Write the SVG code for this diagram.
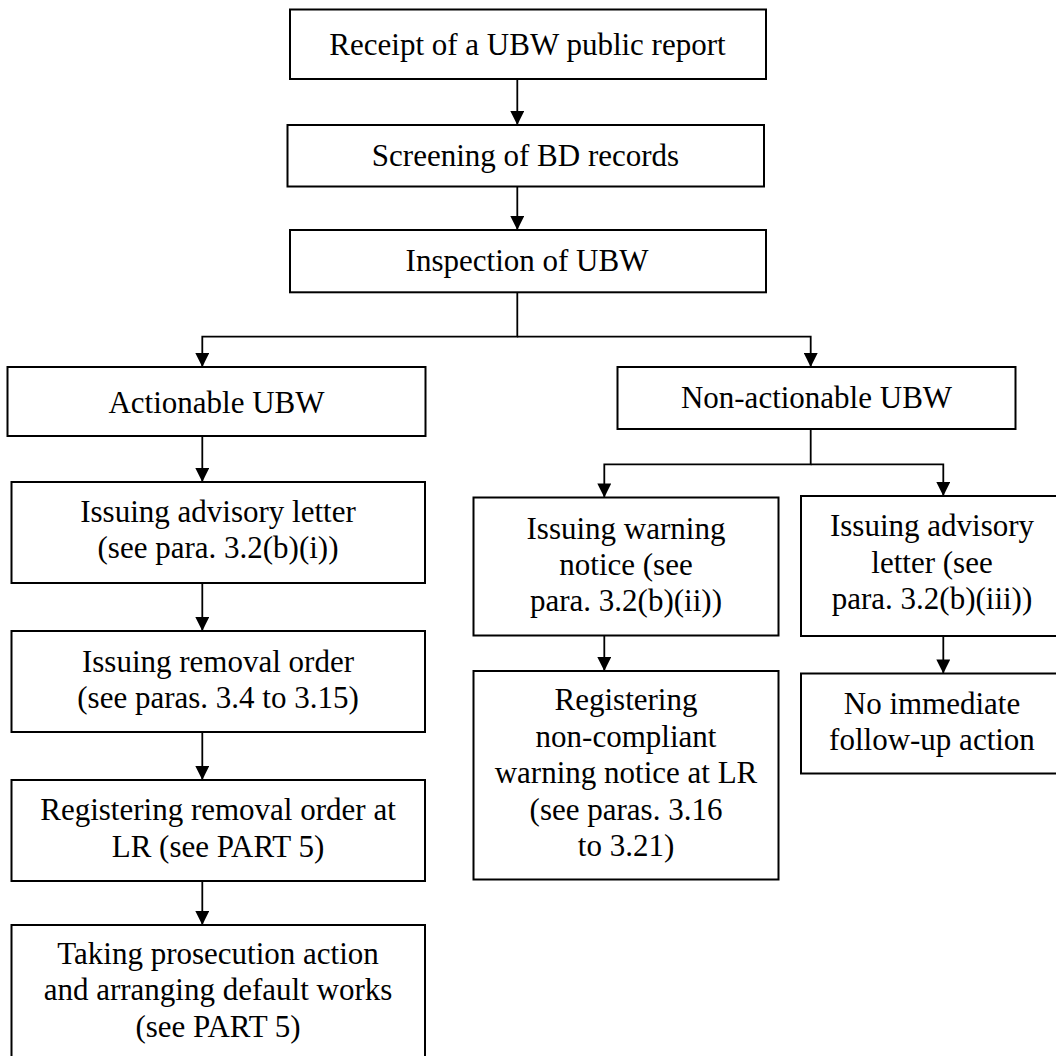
<svg xmlns="http://www.w3.org/2000/svg" width="1056" height="1056" viewBox="0 0 1056 1056">
<style>
.box{fill:#fff;stroke:#000;stroke-width:2}
.t{font-family:"Liberation Serif","Times New Roman",serif;font-size:31px;fill:#000;text-anchor:middle}
.c{fill:none;stroke:#000;stroke-width:1.8}
.a{marker-end:url(#arr)}
</style>
<defs>
<marker id="arr" viewBox="0 0 10 10" refX="10" refY="5" markerWidth="16" markerHeight="14" markerUnits="userSpaceOnUse" orient="auto">
<path d="M0,0 L10,5 L0,10 z" fill="#000"/>
</marker>
</defs>
<rect width="1056" height="1056" fill="#fff"/>
<g id="connectors">
<path class="c a" d="M517.3,79 V125"/>
<path class="c a" d="M517.3,186.7 V230"/>
<path class="c a" d="M517.3,292.3 V336.7 H202.3 V367"/>
<path class="c a" d="M517.3,336.7 H810.7 V367"/>
<path class="c a" d="M202.3,436 V482"/>
<path class="c a" d="M202.3,583 V631"/>
<path class="c a" d="M202.3,732 V780"/>
<path class="c a" d="M202.3,881 V925"/>
<path class="c a" d="M810.7,429 V464.3 H604.3 V497.5"/>
<path class="c a" d="M810.7,464.3 H943.3 V496"/>
<path class="c a" d="M604.3,635.5 V671"/>
<path class="c a" d="M943.3,636 V673.5"/>
</g>
<g id="n-receipt">
<rect class="box" x="290" y="9.5" width="476" height="69.5"/>
<text class="t" x="527.5" y="55">Receipt of a UBW public report</text>
</g>
<g id="n-screening">
<rect class="box" x="287.5" y="125" width="476.5" height="61.5"/>
<text class="t" x="525.5" y="166">Screening of BD records</text>
</g>
<g id="n-inspection">
<rect class="box" x="290" y="230" width="476" height="62.3"/>
<text class="t" x="527" y="271">Inspection of UBW</text>
</g>
<g id="n-actionable">
<rect class="box" x="7.5" y="367" width="418" height="69"/>
<text class="t" x="216.5" y="412.5">Actionable UBW</text>
</g>
<g id="n-nonactionable">
<rect class="box" x="617.5" y="367" width="398" height="62"/>
<text class="t" x="816.5" y="408">Non-actionable UBW</text>
</g>
<g id="n-advisory-left">
<rect class="box" x="11.5" y="482" width="413.5" height="101"/>
<text class="t" x="218" y="522">Issuing advisory letter</text>
<text class="t" x="218" y="558">(see para. 3.2(b)(i))</text>
</g>
<g id="n-removal">
<rect class="box" x="11.5" y="631" width="413.5" height="101"/>
<text class="t" x="218" y="671.5">Issuing removal order</text>
<text class="t" x="218" y="707.5">(see paras. 3.4 to 3.15)</text>
</g>
<g id="n-register-removal">
<rect class="box" x="11.5" y="780" width="413.5" height="101"/>
<text class="t" x="218" y="820">Registering removal order at</text>
<text class="t" x="218" y="856.5">LR (see PART 5)</text>
</g>
<g id="n-prosecution">
<rect class="box" x="11.5" y="925" width="413.5" height="150"/>
<text class="t" x="218" y="963.5">Taking prosecution action</text>
<text class="t" x="218" y="1000">and arranging default works</text>
<text class="t" x="218" y="1036.5">(see PART 5)</text>
</g>
<g id="n-warning">
<rect class="box" x="473.5" y="497.5" width="305" height="138"/>
<text class="t" x="626" y="539">Issuing warning</text>
<text class="t" x="626" y="575">notice (see</text>
<text class="t" x="626" y="611">para. 3.2(b)(ii))</text>
</g>
<g id="n-advisory-right">
<rect class="box" x="801" y="496" width="270" height="140"/>
<text class="t" x="932" y="536">Issuing advisory</text>
<text class="t" x="932" y="572.5">letter (see</text>
<text class="t" x="932" y="609">para. 3.2(b)(iii))</text>
</g>
<g id="n-register-nc">
<rect class="box" x="473.5" y="671" width="305" height="208.5"/>
<text class="t" x="626" y="710">Registering</text>
<text class="t" x="626" y="746.5">non-compliant</text>
<text class="t" x="626" y="783">warning notice at LR</text>
<text class="t" x="626" y="819.5">(see paras. 3.16</text>
<text class="t" x="626" y="856">to 3.21)</text>
</g>
<g id="n-no-action">
<rect class="box" x="801" y="673.5" width="270" height="100"/>
<text class="t" x="932" y="713.5">No immediate</text>
<text class="t" x="932" y="750">follow-up action</text>
</g>
</svg>
